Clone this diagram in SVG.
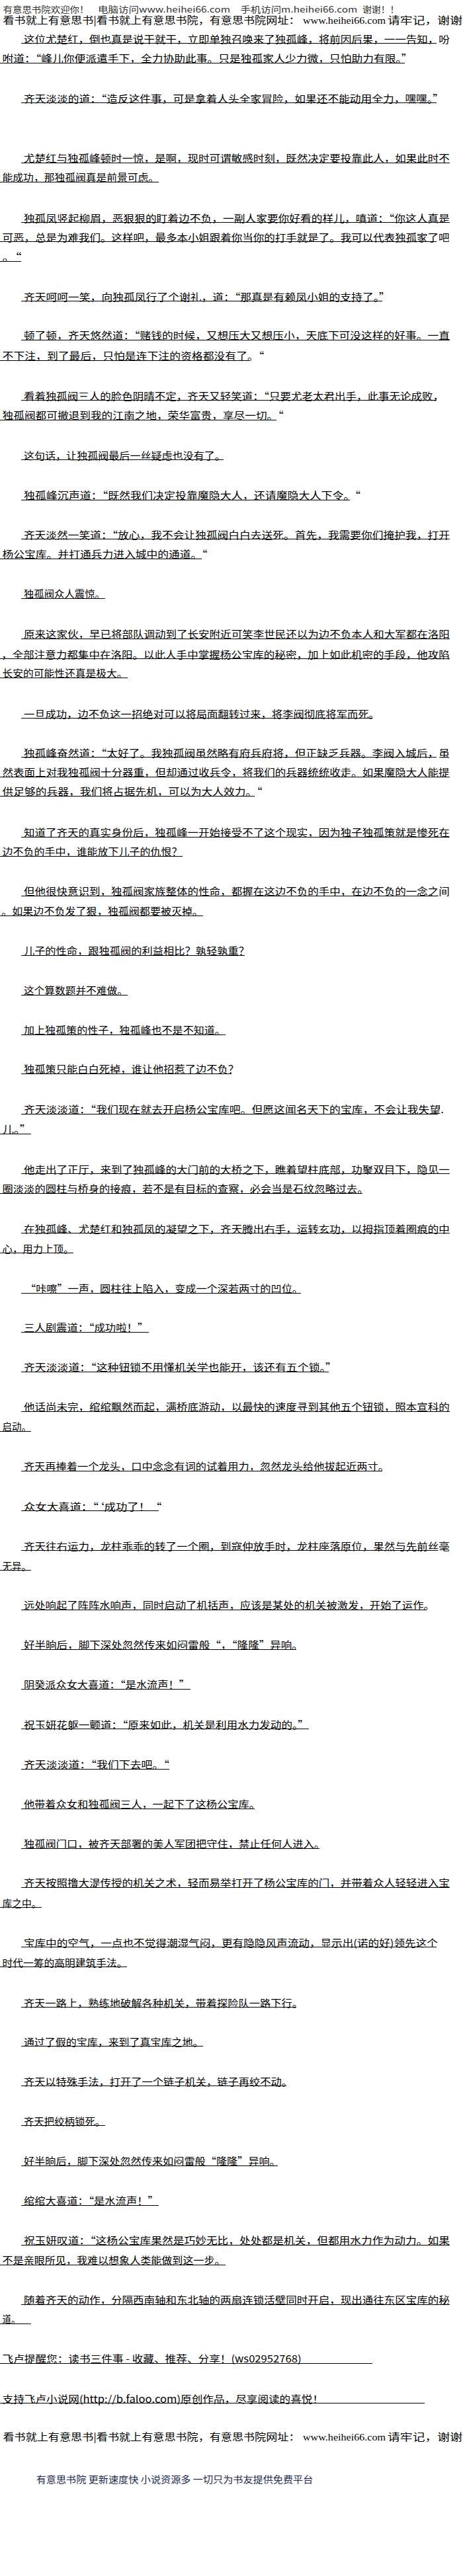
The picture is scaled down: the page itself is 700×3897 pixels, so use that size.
<svg xmlns="http://www.w3.org/2000/svg" width="700" height="3897" viewBox="0 0 700 3897">
<style>
.t{font-family:"Noto Sans CJK SC",sans-serif;font-size:15px;fill:#000}
.s{font-family:"Noto Sans CJK SC",sans-serif;font-size:14.5px;fill:#000}
.m{font-family:"Liberation Serif","Noto Sans CJK SC",serif;font-size:15px;fill:#000}
.h{font-family:"Noto Sans CJK SC",sans-serif;font-size:13px;fill:#333}
.f{font-family:"Noto Sans CJK SC",sans-serif;font-size:14px;fill:#1b2a55}
.u line{stroke:#000;stroke-width:1;shape-rendering:crispEdges}
</style>
<rect width="700" height="3897" fill="#fff"/>
<g id="header">
<text class="h" x="4.5" y="19" textLength="130" lengthAdjust="spacingAndGlyphs">有意思书院欢迎你！</text>
<text class="h" x="148" y="19" textLength="200" lengthAdjust="spacingAndGlyphs">电脑访问www.heihei66.com</text>
<text class="h" x="363.4" y="19" textLength="177" lengthAdjust="spacingAndGlyphs">手机访问m.heihei66.com</text>
<text class="h" x="548" y="19" textLength="55.5" lengthAdjust="spacingAndGlyphs">谢谢！！</text>
<text class="s" x="4.5" y="35.5" textLength="449" lengthAdjust="spacingAndGlyphs">看书就上有意思书|看书就上有意思书院，有意思书院网址：</text>
<text class="m" x="458" y="35.5" textLength="125" lengthAdjust="spacingAndGlyphs">www.heihei66.com</text>
<text class="s" x="586" y="35.5" textLength="113" lengthAdjust="spacingAndGlyphs">请牢记，谢谢</text>
</g>
<g id="body">
<text class="t" x="35.9" y="64.7" textLength="644" lengthAdjust="spacingAndGlyphs">这位尤楚红，倒也真是说干就干，立即单独召唤来了独孤峰，将前因后果，一一告知，吩</text>
<text class="t" x="3.6" y="94" textLength="620" lengthAdjust="spacingAndGlyphs">咐道：“峰儿你便派遣手下，全力协助此事。只是独孤家人少力微，只怕助力有限。”</text>
<text class="t" x="35.9" y="154.7" textLength="635" lengthAdjust="spacingAndGlyphs">齐天淡淡的道：“造反这件事，可是拿着人头全家冒险，如果还不能动用全力，嘿嘿。”</text>
<text class="t" x="35.9" y="245" textLength="644" lengthAdjust="spacingAndGlyphs">尤楚红与独孤峰顿时一惊，是啊，现时可谓敏感时刻，既然决定要投靠此人，如果此时不</text>
<text class="t" x="3.6" y="274" textLength="236.5" lengthAdjust="spacingAndGlyphs">能成功，那独孤阀真是前景可虑。</text>
<text class="t" x="35.9" y="335.7" textLength="644" lengthAdjust="spacingAndGlyphs">独孤凤竖起柳眉，恶狠狠的盯着边不负，一副人家要你好看的样儿，嗔道：“你这人真是</text>
<text class="t" x="3.6" y="364.7" textLength="676" lengthAdjust="spacingAndGlyphs">可恶，总是为难我们。这样吧，最多本小姐跟着你当你的打手就是了。我可以代表独孤家了吧</text>
<text class="t" x="3.6" y="394" textLength="29" lengthAdjust="spacingAndGlyphs">。“</text>
<text class="t" x="35.9" y="454.7" textLength="554" lengthAdjust="spacingAndGlyphs">齐天呵呵一笑，向独孤凤行了个谢礼，道：“那真是有赖凤小姐的支持了。”</text>
<text class="t" x="35.9" y="513" textLength="644" lengthAdjust="spacingAndGlyphs">顿了顿，齐天悠然道：“赌钱的时候，又想压大又想压小，天底下可没这样的好事。一直</text>
<text class="t" x="3.6" y="544" textLength="395.7" lengthAdjust="spacingAndGlyphs">不下注，到了最后，只怕是连下注的资格都没有了。“</text>
<text class="t" x="35.9" y="604.7" textLength="635" lengthAdjust="spacingAndGlyphs">看着独孤阀三人的脸色阴晴不定，齐天又轻笑道：“只要尤老太君出手，此事无论成败，</text>
<text class="t" x="3.6" y="634" textLength="425" lengthAdjust="spacingAndGlyphs">独孤阀都可撤退到我的江南之地，荣华富贵，享尽一切。“</text>
<text class="t" x="35.9" y="694.7" textLength="305" lengthAdjust="spacingAndGlyphs">这句话，让独孤阀最后一丝疑虑也没有了。</text>
<text class="t" x="35.9" y="755" textLength="509" lengthAdjust="spacingAndGlyphs">独孤峰沉声道：“既然我们决定投靠魔隐大人，还请魔隐大人下令。“</text>
<text class="t" x="35.9" y="814.7" textLength="644" lengthAdjust="spacingAndGlyphs">齐天淡然一笑道：“放心，我不会让独孤阀白白去送死。首先，我需要你们掩护我，打开</text>
<text class="t" x="3.6" y="844.3" textLength="310" lengthAdjust="spacingAndGlyphs">杨公宝库。并打通兵力进入城中的通道。“</text>
<text class="t" x="35.9" y="904" textLength="123" lengthAdjust="spacingAndGlyphs">独孤阀众人震惊。</text>
<text class="t" x="35.9" y="965" textLength="644" lengthAdjust="spacingAndGlyphs">原来这家伙，早已将部队调动到了长安附近可笑李世民还以为边不负本人和大军都在洛阳</text>
<text class="t" x="2.2" y="995.7" textLength="677.6" lengthAdjust="spacingAndGlyphs">，全部注意力都集中在洛阳。以此人手中掌握杨公宝库的秘密，加上如此机密的手段，他攻陷</text>
<text class="t" x="3.6" y="1024" textLength="189" lengthAdjust="spacingAndGlyphs">长安的可能性还真是极大。</text>
<text class="t" x="35.9" y="1085.7" textLength="538" lengthAdjust="spacingAndGlyphs">一旦成功，边不负这一招绝对可以将局面翻转过来，将李阀彻底将军而死。</text>
<text class="t" x="35.9" y="1144.7" textLength="644" lengthAdjust="spacingAndGlyphs">独孤峰奋然道：“太好了。我独孤阀虽然略有府兵府将，但正缺乏兵器。李阀入城后，虽</text>
<text class="t" x="3.6" y="1174" textLength="676" lengthAdjust="spacingAndGlyphs">然表面上对我独孤阀十分器重，但却通过收兵令，将我们的兵器统统收走。如果魔隐大人能提</text>
<text class="t" x="3.6" y="1203.3" textLength="393" lengthAdjust="spacingAndGlyphs">供足够的兵器，我们将占据先机，可以为大人效力。“</text>
<text class="t" x="35.9" y="1265" textLength="644" lengthAdjust="spacingAndGlyphs">知道了齐天的真实身份后，独孤峰一开始接受不了这个现实，因为独子独孤策就是惨死在</text>
<text class="t" x="3.6" y="1294" textLength="272" lengthAdjust="spacingAndGlyphs">边不负的手中，谁能放下儿子的仇恨？</text>
<text class="t" x="35.9" y="1354" textLength="644" lengthAdjust="spacingAndGlyphs">但他很快意识到，独孤阀家族整体的性命，都握在这边不负的手中，在边不负的一念之间</text>
<text class="t" x="2.2" y="1384" textLength="305" lengthAdjust="spacingAndGlyphs">。如果边不负发了狠，独孤阀都要被灭掉。</text>
<text class="t" x="35.9" y="1444" textLength="341" lengthAdjust="spacingAndGlyphs">儿子的性命，跟独孤阀的利益相比？孰轻孰重？</text>
<text class="t" x="35.9" y="1504" textLength="157" lengthAdjust="spacingAndGlyphs">这个算数题并不难做。</text>
<text class="t" x="35.9" y="1564" textLength="305" lengthAdjust="spacingAndGlyphs">加上独孤策的性子，独孤峰也不是不知道。</text>
<text class="t" x="35.9" y="1623" textLength="325" lengthAdjust="spacingAndGlyphs">独孤策只能白白死掉，谁让他招惹了边不负？</text>
<text class="t" x="35.9" y="1684" textLength="635" lengthAdjust="spacingAndGlyphs">齐天淡淡道：“我们现在就去开启杨公宝库吧。但愿这闻名天下的宝库，不会让我失望.</text>
<text class="t" x="3.6" y="1714" textLength="43.5" lengthAdjust="spacingAndGlyphs">儿。”</text>
<text class="t" x="35.9" y="1774.7" textLength="644" lengthAdjust="spacingAndGlyphs">他走出了正厅，来到了独孤峰的大门前的大桥之下，瞧着望柱底部，功聚双目下，隐见一</text>
<text class="t" x="3.6" y="1804" textLength="553" lengthAdjust="spacingAndGlyphs">圈淡淡的圆柱与桥身的接痕，若不是有目标的查察，必会当是石纹忽略过去。</text>
<text class="t" x="35.9" y="1864.7" textLength="644" lengthAdjust="spacingAndGlyphs">在独孤峰、尤楚红和独孤凤的凝望之下，齐天腾出右手，运转玄功，以拇指顶着圈痕的中</text>
<text class="t" x="3.6" y="1894.7" textLength="107.7" lengthAdjust="spacingAndGlyphs">心，用力上顶。</text>
<text class="t" x="38" y="1955" textLength="420" lengthAdjust="spacingAndGlyphs">“咔嚓”一声，圆柱往上陷入，变成一个深若两寸的凹位。</text>
<text class="t" x="35.9" y="2014" textLength="188.5" lengthAdjust="spacingAndGlyphs">三人剧震道：“成功啦！”</text>
<text class="t" x="35.9" y="2074" textLength="473" lengthAdjust="spacingAndGlyphs">齐天淡淡道：“这种钮锁不用懂机关学也能开，该还有五个锁。”</text>
<text class="t" x="35.9" y="2134" textLength="644" lengthAdjust="spacingAndGlyphs">他话尚未完，绾绾飘然而起，满桥底游动，以最快的速度寻到其他五个钮锁，照本宣科的</text>
<text class="t" x="3.6" y="2164" textLength="43.5" lengthAdjust="spacingAndGlyphs">启动。</text>
<text class="t" x="35.9" y="2224" textLength="552" lengthAdjust="spacingAndGlyphs">齐天再捧着一个龙头，口中念念有词的试着用力，忽然龙头给他拔起近两寸。</text>
<text class="t" x="35.9" y="2284.7" textLength="208.6" lengthAdjust="spacingAndGlyphs">众女大喜道：“‘成功了！“</text>
<text class="t" x="35.9" y="2344.7" textLength="644" lengthAdjust="spacingAndGlyphs">齐天往右运力，龙柱乖乖的转了一个圈，到寇仲放手时，龙柱座落原位，果然与先前丝毫</text>
<text class="t" x="3.6" y="2374.7" textLength="43.5" lengthAdjust="spacingAndGlyphs">无异。</text>
<text class="t" x="35.9" y="2434" textLength="621" lengthAdjust="spacingAndGlyphs">远处响起了阵阵水响声，同时启动了机括声，应该是某处的机关被激发，开始了运作。</text>
<text class="t" x="35.9" y="2494" textLength="422" lengthAdjust="spacingAndGlyphs">好半晌后，脚下深处忽然传来如闷雷般“，“隆隆”异响。</text>
<text class="t" x="35.9" y="2554" textLength="251" lengthAdjust="spacingAndGlyphs">阴癸派众女大喜道：“是水流声！”</text>
<text class="t" x="35.9" y="2614.7" textLength="431" lengthAdjust="spacingAndGlyphs">祝玉妍花躯一颤道：“原来如此，机关是利用水力发动的。”</text>
<text class="t" x="35.9" y="2675" textLength="220" lengthAdjust="spacingAndGlyphs">齐天淡淡道：“我们下去吧。“</text>
<text class="t" x="35.9" y="2735" textLength="357" lengthAdjust="spacingAndGlyphs">他带着众女和独孤阀三人，一起下了这杨公宝库。</text>
<text class="t" x="35.9" y="2795" textLength="455" lengthAdjust="spacingAndGlyphs">独孤阀门口，被齐天部署的美人军团把守住，禁止任何人进入。</text>
<text class="t" x="35.9" y="2854" textLength="644" lengthAdjust="spacingAndGlyphs">齐天按照撸大湜传授的机关之术，轻而易举打开了杨公宝库的门，并带着众人轻轻进入宝</text>
<text class="t" x="3.6" y="2884.7" textLength="59" lengthAdjust="spacingAndGlyphs">库之中。</text>
<text class="t" x="35.9" y="2944.7" textLength="626" lengthAdjust="spacingAndGlyphs">宝库中的空气，一点也不觉得潮湿气闷，更有隐隐风声流动，显示出(诺的好)领先这个</text>
<text class="t" x="3.6" y="2974.7" textLength="189" lengthAdjust="spacingAndGlyphs">时代一筹的高明建筑手法。</text>
<text class="t" x="35.9" y="3035.7" textLength="422" lengthAdjust="spacingAndGlyphs">齐天一路上，熟练地破解各种机关，带着探险队一路下行。</text>
<text class="t" x="35.9" y="3094.7" textLength="271.5" lengthAdjust="spacingAndGlyphs">通过了假的宝库，来到了真宝库之地。</text>
<text class="t" x="35.9" y="3154.7" textLength="406" lengthAdjust="spacingAndGlyphs">齐天以特殊手法，打开了一个链子机关，链子再绞不动。</text>
<text class="t" x="35.9" y="3214.7" textLength="123.4" lengthAdjust="spacingAndGlyphs">齐天把绞柄锁死。</text>
<text class="t" x="35.9" y="3275" textLength="388" lengthAdjust="spacingAndGlyphs">好半晌后，脚下深处忽然传来如闷雷般“隆隆”异响。</text>
<text class="t" x="35.9" y="3335" textLength="204" lengthAdjust="spacingAndGlyphs">绾绾大喜道：“是水流声！”</text>
<text class="t" x="35.9" y="3395" textLength="644" lengthAdjust="spacingAndGlyphs">祝玉妍叹道：“这杨公宝库果然是巧妙无比，处处都是机关，但都用水力作为动力。如果</text>
<text class="t" x="3.6" y="3425" textLength="337" lengthAdjust="spacingAndGlyphs">不是亲眼所见，我难以想象人类能做到这一步。</text>
<text class="t" x="35.9" y="3485" textLength="644" lengthAdjust="spacingAndGlyphs">随着齐天的动作，分隔西南轴和东北轴的两扇连锁活壁同时开启，现出通往东区宝库的秘</text>
<text class="t" x="3.6" y="3514" textLength="27" lengthAdjust="spacingAndGlyphs">道。</text>
<text class="t" x="3.6" y="3574" textLength="452" lengthAdjust="spacingAndGlyphs">飞卢提醒您：读书三件事 - 收藏、推荐、分享！(ws02952768)</text>
<text class="t" x="3.6" y="3634.7" textLength="485.5" lengthAdjust="spacingAndGlyphs">支持飞卢小说网(http://b.faloo.com)原创作品，尽享阅读的喜悦！</text>
</g>
<g id="underlines" class="u">
<line x1="32" y1="65.7" x2="660" y2="65.7"/>
<line x1="0" y1="95" x2="612" y2="95"/>
<line x1="32" y1="155.7" x2="660" y2="155.7"/>
<line x1="32" y1="246" x2="680" y2="246"/>
<line x1="0" y1="275" x2="240" y2="275"/>
<line x1="32" y1="336.7" x2="680" y2="336.7"/>
<line x1="0" y1="365.7" x2="660" y2="365.7"/>
<line x1="0" y1="395" x2="32" y2="395"/>
<line x1="32" y1="455.7" x2="578" y2="455.7"/>
<line x1="32" y1="514" x2="680" y2="514"/>
<line x1="0" y1="545" x2="376" y2="545"/>
<line x1="32" y1="605.7" x2="660" y2="605.7"/>
<line x1="0" y1="635" x2="418" y2="635"/>
<line x1="32" y1="695.7" x2="338" y2="695.7"/>
<line x1="32" y1="756" x2="529" y2="756"/>
<line x1="32" y1="815.7" x2="680" y2="815.7"/>
<line x1="0" y1="845.3" x2="305" y2="845.3"/>
<line x1="32" y1="905" x2="159" y2="905"/>
<line x1="32" y1="966" x2="680" y2="966"/>
<line x1="0" y1="996.7" x2="680" y2="996.7"/>
<line x1="0" y1="1025" x2="193" y2="1025"/>
<line x1="32" y1="1086.7" x2="563" y2="1086.7"/>
<line x1="32" y1="1145.7" x2="660" y2="1145.7"/>
<line x1="0" y1="1175" x2="680" y2="1175"/>
<line x1="0" y1="1204.3" x2="385" y2="1204.3"/>
<line x1="32" y1="1266" x2="680" y2="1266"/>
<line x1="0" y1="1295" x2="276" y2="1295"/>
<line x1="32" y1="1355" x2="662" y2="1355"/>
<line x1="0" y1="1385" x2="307" y2="1385"/>
<line x1="32" y1="1445" x2="370" y2="1445"/>
<line x1="32" y1="1505" x2="193" y2="1505"/>
<line x1="32" y1="1565" x2="341" y2="1565"/>
<line x1="32" y1="1624" x2="350" y2="1624"/>
<line x1="32" y1="1685" x2="662" y2="1685"/>
<line x1="0" y1="1715" x2="47" y2="1715"/>
<line x1="32" y1="1775.7" x2="680" y2="1775.7"/>
<line x1="0" y1="1805" x2="548" y2="1805"/>
<line x1="32" y1="1865.7" x2="680" y2="1865.7"/>
<line x1="0" y1="1895.7" x2="111" y2="1895.7"/>
<line x1="32" y1="1956" x2="455" y2="1956"/>
<line x1="32" y1="2015" x2="225" y2="2015"/>
<line x1="32" y1="2075" x2="497" y2="2075"/>
<line x1="32" y1="2135" x2="680" y2="2135"/>
<line x1="0" y1="2165" x2="47" y2="2165"/>
<line x1="32" y1="2225" x2="578" y2="2225"/>
<line x1="32" y1="2285.7" x2="240" y2="2285.7"/>
<line x1="32" y1="2345.7" x2="662" y2="2345.7"/>
<line x1="0" y1="2375.7" x2="47" y2="2375.7"/>
<line x1="32" y1="2435" x2="645" y2="2435"/>
<line x1="32" y1="2495" x2="448" y2="2495"/>
<line x1="32" y1="2555" x2="288" y2="2555"/>
<line x1="32" y1="2615.7" x2="467" y2="2615.7"/>
<line x1="32" y1="2676" x2="256" y2="2676"/>
<line x1="32" y1="2736" x2="385" y2="2736"/>
<line x1="32" y1="2796" x2="483" y2="2796"/>
<line x1="32" y1="2855" x2="680" y2="2855"/>
<line x1="0" y1="2885.7" x2="63" y2="2885.7"/>
<line x1="32" y1="2945.7" x2="660" y2="2945.7"/>
<line x1="0" y1="2975.7" x2="192" y2="2975.7"/>
<line x1="32" y1="3036.7" x2="448" y2="3036.7"/>
<line x1="32" y1="3095.7" x2="307" y2="3095.7"/>
<line x1="32" y1="3155.7" x2="433" y2="3155.7"/>
<line x1="32" y1="3215.7" x2="159" y2="3215.7"/>
<line x1="32" y1="3276" x2="420" y2="3276"/>
<line x1="32" y1="3336" x2="240" y2="3336"/>
<line x1="32" y1="3396" x2="680" y2="3396"/>
<line x1="0" y1="3426" x2="341" y2="3426"/>
<line x1="32" y1="3486" x2="680" y2="3486"/>
<line x1="0" y1="3515" x2="47" y2="3515"/>
<line x1="0" y1="3575" x2="563" y2="3575"/>
<line x1="0" y1="3635.7" x2="642" y2="3635.7"/>
</g>
<g id="footer">
<text class="s" x="4.5" y="3692" textLength="449" lengthAdjust="spacingAndGlyphs">看书就上有意思书|看书就上有意思书院，有意思书院网址：</text>
<text class="m" x="458" y="3692" textLength="125" lengthAdjust="spacingAndGlyphs">www.heihei66.com</text>
<text class="s" x="586" y="3692" textLength="113" lengthAdjust="spacingAndGlyphs">请牢记，谢谢</text>
<text class="f" x="54.7" y="3756" textLength="418.7" lengthAdjust="spacingAndGlyphs">有意思书院 更新速度快 小说资源多 一切只为书友提供免费平台</text>
</g>
</svg>
